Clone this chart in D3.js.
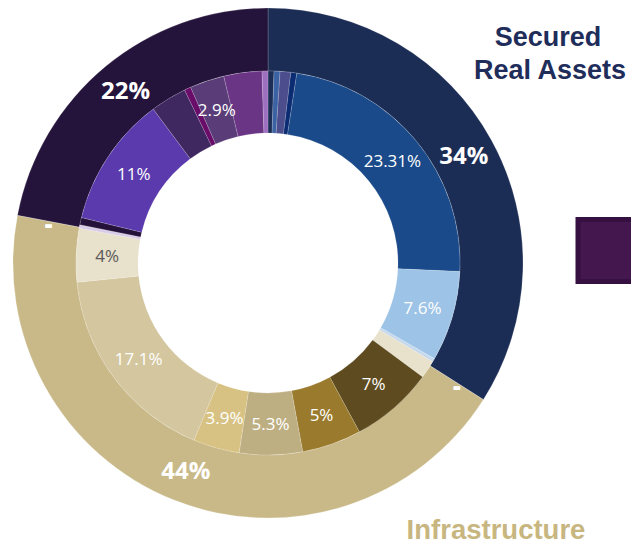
<!DOCTYPE html>
<html><head><meta charset="utf-8">
<script src="https://cdn.jsdelivr.net/npm/d3@7"></script>
<style>
html,body{margin:0;padding:0;background:#fff;overflow:hidden}
svg{display:block}
</style></head>
<body>
<svg id="chart" width="631" height="546"></svg>
<script>
// ---- data ----
const outerCategories = ["Secured Real Assets", "zero-a", "Infrastructure", "zero-b", "Other"];
const outerValues = [34, 0, 44, 0, 22];
const outerLabels = ["34%", "-", "44%", "-", "22%"];
const outerColors = ["#1C2D55", "#1C2D55", "#C9B988", "#C9B988", "#24133A"];

const innerCategories = [
  "SRA a", "SRA b", "SRA c", "SRA d", "SRA e", "SRA f", "SRA g",
  "Infra a", "Infra b", "Infra c", "Infra d", "Infra e", "Infra f", "Infra g",
  "Other a", "Other b", "Other c", "Other d", "Other e", "Other f", "Other g", "Other h"
];
const innerValues = [
  0.5, 0.5, 0.9, 0.5, 23.31, 7.6, 0.3,
  1.5, 7, 5, 5.3, 3.9, 17.1, 4.5,
  0.3, 0.6, 11, 3.05, 0.55, 2.9, 3.2, 0.5
];
const innerLabels = [
  "", "", "", "", "23.31%", "7.6%", "",
  "", "7%", "5%", "5.3%", "3.9%", "17.1%", "4%",
  "", "", "11%", "", "", "2.9%", "", ""
];
const innerColors = [
  "#1C2E55", "#3B62A3", "#4B4D8C", "#0B2B72", "#1B4A8A", "#9DC3E6", "#C5D8EC",
  "#E8E1CC", "#5E4B1F", "#9A7B2E", "#BEAF83", "#D8C283", "#D4C79F", "#E8E1CB",
  "#D8CCE8", "#25123A", "#5B3AAE", "#3F2760", "#6A0D6A", "#5A3D78", "#6A3585", "#A070C0"
];
const darkLabelIdx = [13]; // labels drawn in grey on light slices

// ---- layout ----
const svg = d3.select("#chart");
const cx = 268, cy = 263;
const rHole = 130, rMid = 192, rOuter = 255;
const g = svg.append("g").attr("transform", `translate(${cx},${cy})`);

const pie = d3.pie().sort(null).value(d => d);
const innerArc = d3.arc().innerRadius(rHole).outerRadius(rMid);
const outerArc = d3.arc().innerRadius(rMid).outerRadius(rOuter);

const outerData = pie(outerValues);
const innerData = pie(innerValues);

g.selectAll("path.outer").data(outerData).join("path")
  .attr("class", "outer")
  .attr("d", outerArc)
  .attr("fill", (d, i) => outerColors[i])
  .attr("stroke", "rgba(255,255,255,0.35)")
  .attr("stroke-width", 0.5);

g.selectAll("path.inner").data(innerData).join("path")
  .attr("class", "inner")
  .attr("d", innerArc)
  .attr("fill", (d, i) => innerColors[i])
  .attr("stroke", "rgba(255,255,255,0.3)")
  .attr("stroke-width", 0.5);

// inner labels
g.selectAll("text.inner").data(innerData).join("text")
  .attr("class", "inner")
  .attr("transform", d => `translate(${innerArc.centroid(d)})`)
  .attr("text-anchor", "middle")
  .attr("dy", "0.35em")
  .attr("font-family", "'Open Sans', sans-serif")
  .attr("font-size", 17)
  .attr("fill", (d, i) => darkLabelIdx.includes(i) ? "#595959" : "#FFFFFF")
  .text((d, i) => innerLabels[i]);

// outer labels
g.selectAll("text.outer").data(outerData).join("text")
  .attr("class", "outer")
  .attr("transform", d => `translate(${outerArc.centroid(d)})`)
  .attr("text-anchor", "middle")
  .attr("dy", (d, i) => outerValues[i] === 0 ? "0.5em" : "0.35em")
  .attr("font-family", "'Open Sans', sans-serif")
  .attr("font-weight", (d, i) => outerValues[i] === 0 ? 800 : "bold")
  .attr("font-size", (d, i) => outerValues[i] === 0 ? 24 : 24)
  .attr("fill", "#FFFFFF")
  .text((d, i) => outerLabels[i]);

// titles
const titleFont = "'Liberation Sans', Arial, sans-serif";
svg.append("text").attr("x", 548).attr("y", 46)
  .attr("text-anchor", "middle").attr("font-family", titleFont)
  .attr("font-weight", "bold").attr("font-size", 27).attr("fill", "#1F2D5B")
  .text("Secured");
svg.append("text").attr("x", 550).attr("y", 79)
  .attr("text-anchor", "middle").attr("font-family", titleFont)
  .attr("font-weight", "bold").attr("font-size", 27).attr("fill", "#1F2D5B")
  .text("Real Assets");
svg.append("text").attr("x", 496).attr("y", 539)
  .attr("text-anchor", "middle").attr("font-family", titleFont)
  .attr("font-weight", "bold").attr("font-size", 27.5).attr("fill", "#C8B680")
  .text("Infrastructure");

// partial legend swatch at right edge
svg.append("rect").attr("x", 577).attr("y", 218.5).attr("width", 70).attr("height", 63.5)
  .attr("fill", "#DADADA");
svg.append("rect").attr("x", 578).attr("y", 219.5).attr("width", 70).attr("height", 62)
  .attr("fill", "#45174F").attr("stroke", "#351040").attr("stroke-width", 5);
</script>
</body></html>
